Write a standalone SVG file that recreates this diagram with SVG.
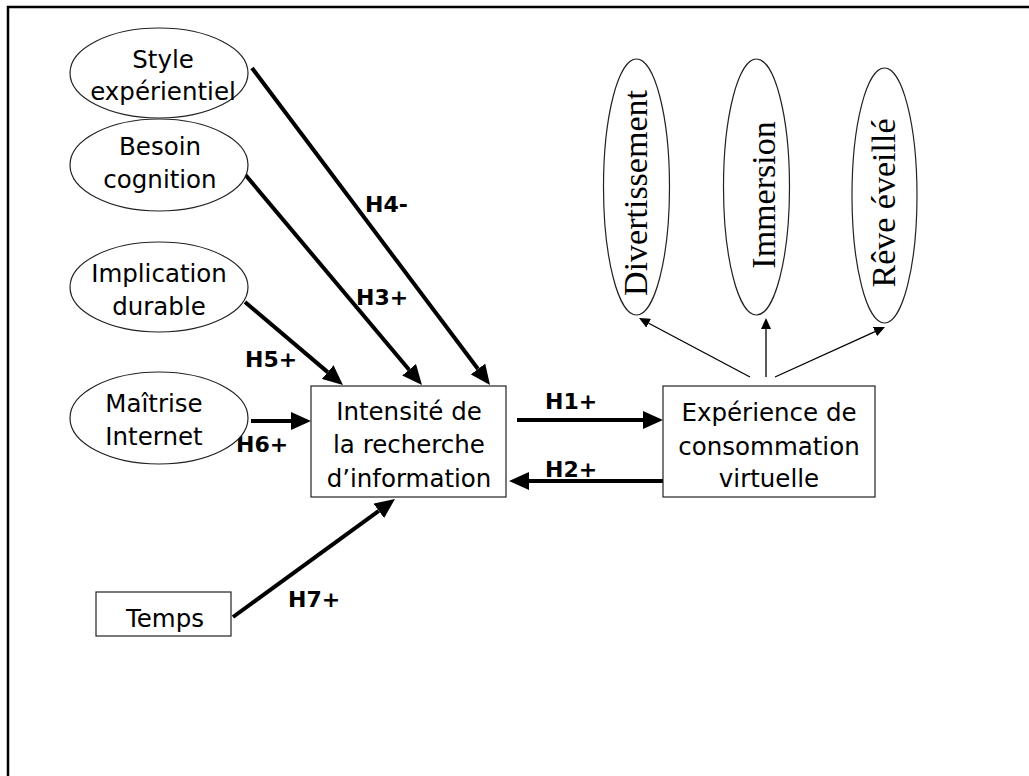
<svg xmlns="http://www.w3.org/2000/svg" width="1029" height="776" viewBox="0 0 1029 776">
<style>
.t{font-family:"DejaVu Sans",Verdana,sans-serif;font-size:24.5px;fill:#000;text-anchor:middle}
.lb{font-family:"DejaVu Sans",Verdana,sans-serif;font-size:22px;font-weight:bold;fill:#000}
.s{font-family:"Liberation Serif","Times New Roman",serif;font-size:34px;fill:#000;text-anchor:middle}
.sh{fill:#fff;stroke:#222;stroke-width:1.2}
.thick{stroke:#000;stroke-width:4;fill:none}
.thin{stroke:#000;stroke-width:1.3;fill:none}
</style>
<defs>
<marker id="ah" viewBox="0 0 20 18" refX="0" refY="9" markerWidth="20" markerHeight="18" markerUnits="userSpaceOnUse" orient="auto"><path d="M0,0 L20,9 L0,18 z" fill="#000"/></marker>
<marker id="as" viewBox="0 0 11 10" refX="0" refY="5" markerWidth="11" markerHeight="10" markerUnits="userSpaceOnUse" orient="auto"><path d="M0,0 L11,5 L0,10 z" fill="#000"/></marker>
</defs>
<rect width="1029" height="776" fill="#fff"/>
<path d="M8,776 V7 H1029" stroke="#000" stroke-width="2.5" fill="none"/>

<g id="connectors">
<line class="thick" x1="252" y1="68" x2="478" y2="369" marker-end="url(#ah)"/>
<line class="thick" x1="243" y1="172" x2="409.1" y2="369.7" marker-end="url(#ah)"/>
<line class="thick" x1="245" y1="302" x2="327.7" y2="372.1" marker-end="url(#ah)"/>
<line class="thick" x1="251" y1="421" x2="291" y2="421" marker-end="url(#ah)"/>
<line class="thick" x1="233" y1="617" x2="378.8" y2="510.8" marker-end="url(#ah)"/>
<line class="thick" x1="517" y1="420" x2="643" y2="420" marker-end="url(#ah)"/>
<line class="thick" x1="663" y1="481" x2="529" y2="481" marker-end="url(#ah)"/>
<line class="thin" x1="750" y1="377" x2="648.7" y2="323.2" marker-end="url(#as)"/>
<line class="thin" x1="766" y1="377" x2="766" y2="329" marker-end="url(#as)"/>
<line class="thin" x1="775" y1="377" x2="875" y2="331.6" marker-end="url(#as)"/>
<text class="lb" x="365" y="212">H4-</text>
<text class="lb" x="356" y="305">H3+</text>
<text class="lb" x="245" y="367">H5+</text>
<text class="lb" x="236" y="452">H6+</text>
<text class="lb" x="288" y="607">H7+</text>
<text class="lb" x="545" y="409">H1+</text>
<text class="lb" x="545" y="477">H2+</text>
</g>

<g id="style">
<ellipse class="sh" cx="159" cy="73" rx="89" ry="45"/>
<text class="t" x="163" y="68">Style</text>
<text class="t" x="163" y="100">expérientiel</text>
</g>
<g id="besoin">
<ellipse class="sh" cx="159" cy="165" rx="89" ry="46"/>
<text class="t" x="160" y="155">Besoin</text>
<text class="t" x="160" y="188">cognition</text>
</g>
<g id="implication">
<ellipse class="sh" cx="159" cy="287" rx="89" ry="45"/>
<text class="t" x="159" y="282">Implication</text>
<text class="t" x="159" y="315">durable</text>
</g>
<g id="maitrise">
<ellipse class="sh" cx="159" cy="418" rx="89" ry="46"/>
<text class="t" x="154" y="412">Maîtrise</text>
<text class="t" x="154" y="445">Internet</text>
</g>
<g id="temps">
<rect class="sh" x="96" y="592" width="135" height="44"/>
<text class="t" x="165" y="627">Temps</text>
</g>
<g id="intensite">
<rect class="sh" x="311" y="386" width="195" height="111"/>
<text class="t" x="409" y="420">Intensité de</text>
<text class="t" x="409" y="453">la recherche</text>
<text class="t" x="409" y="487">d’information</text>
</g>
<g id="experience">
<rect class="sh" x="663" y="386" width="212" height="111"/>
<text class="t" x="769" y="421">Expérience de</text>
<text class="t" x="769" y="455">consommation</text>
<text class="t" x="769" y="487">virtuelle</text>
</g>
<g id="divertissement">
<ellipse class="sh" cx="636.5" cy="187" rx="33" ry="128"/>
<text class="s" transform="translate(647,193) rotate(-90)">Divertissement</text>
</g>
<g id="immersion">
<ellipse class="sh" cx="756.5" cy="187" rx="33" ry="128"/>
<text class="s" transform="translate(775,195) rotate(-90)">Immersion</text>
</g>
<g id="reve">
<ellipse class="sh" cx="884.5" cy="195.5" rx="32.5" ry="127.5"/>
<text class="s" transform="translate(895,203) rotate(-90)">Rêve éveillé</text>
</g>
</svg>
